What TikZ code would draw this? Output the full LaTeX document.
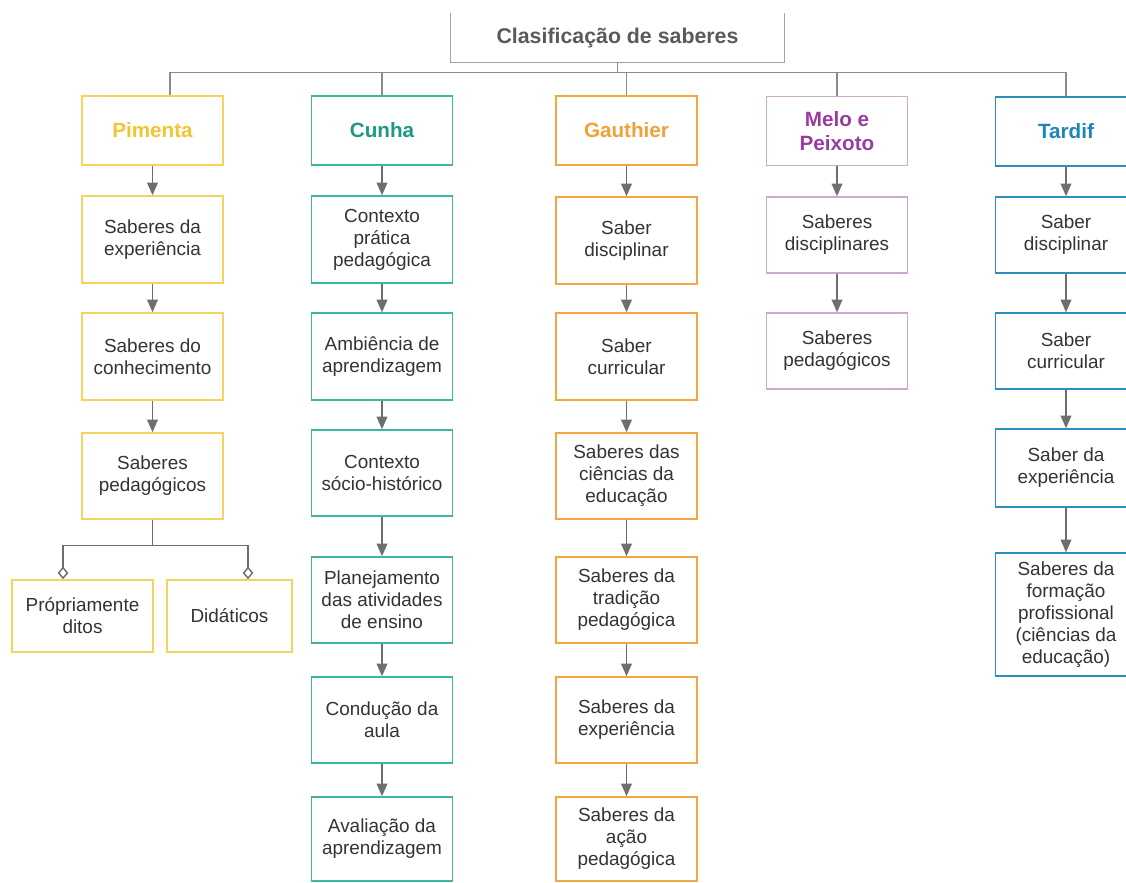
\documentclass[tikz,border=0pt]{standalone}
\usepackage{fontspec}
\setmainfont{Liberation Sans}
\usetikzlibrary{arrows.meta}

\definecolor{cinza}{HTML}{6E6E6E}
\definecolor{texto}{HTML}{333333}
\definecolor{tborda}{HTML}{A3A3A3}
\definecolor{ttexto}{HTML}{5A5A5A}
\definecolor{amarelo}{HTML}{F6D35E}
\definecolor{amarelotx}{HTML}{F3C431}
\definecolor{verde}{HTML}{3CB7A4}
\definecolor{verdetx}{HTML}{1C9884}
\definecolor{laranja}{HTML}{F4A641}
\definecolor{laranjatx}{HTML}{F0A138}
\definecolor{lilas}{HTML}{CCAACD}
\definecolor{lilastx}{HTML}{9A3C9E}
\definecolor{azul}{HTML}{2F8DBE}
\definecolor{azultx}{HTML}{1E84B9}

\tikzset{
  caixa/.style={draw, line width=1.1pt, align=center, text=texto, inner sep=2pt,
    minimum width=106pt, font=\fontsize{14.2}{16.5}\selectfont},
  cabeca/.style={caixa, minimum height=51.75pt, font=\fontsize{15.5}{18}\selectfont\bfseries},
  seta/.style={draw=cinza, line width=1.2pt, -{Triangle[length=9.5pt,width=8pt]}},
  ramo/.style={draw=cinza, line width=1.1pt, -{Diamond[open,length=9.5pt,width=8pt]}},
  barra/.style={draw=cinza!80, line width=1pt}
}

\begin{document}
\begin{tikzpicture}[x=0.75pt,y=-0.75pt]
\useasboundingbox (0,0) rectangle (1126,882);

\node (titulo) [minimum width=250pt, minimum height=37pt, text=ttexto,
  font=\fontsize{16}{19}\selectfont\bfseries] at (617.5,37.5) {Clasificação de saberes};
\draw[draw=tborda, line width=1.1pt] (titulo.north west) -- (titulo.south west)
  -- (titulo.south east) -- (titulo.north east);

% cabecalhos
\node[cabeca, draw=amarelo, text=amarelotx] (pim) at (152.5,130.5) {Pimenta};
\node[cabeca, draw=verde, text=verdetx] (cun) at (382,130.5) {Cunha};
\node[cabeca, draw=laranja, text=laranjatx] (gau) at (626.5,130.5) {Gauthier};
\node[cabeca, draw=lilas, text=lilastx] (mel) at (837,131) {Melo e\\Peixoto};
\node[cabeca, draw=azul, text=azultx] (tar) at (1066,131.5) {Tardif};

\draw[barra] (titulo.south) -- ++(0,10) -| ([xshift=13.1pt]pim.north);
\draw[barra] (titulo.south) -- ++(0,10) -| (cun.north);
\draw[barra] (titulo.south) -- ++(0,10) -| (gau.north);
\draw[barra] (titulo.south) -- ++(0,10) -| (mel.north);
\draw[barra] (titulo.south) -- ++(0,10) -| (tar.north);

% Pimenta
\node[caixa, draw=amarelo, minimum height=65.25pt] (p1) at (152.5,239.5) {Saberes da\\experiência};
\node[caixa, draw=amarelo, minimum height=65.25pt] (p2) at (152.5,356.5) {Saberes do\\conhecimento};
\node[caixa, draw=amarelo, minimum height=64.5pt] (p3) at (152.5,476) {Saberes\\pedagógicos};
\node[caixa, draw=amarelo, minimum height=54pt] (p4) at (82.5,616) {Própriamente\\ditos};
\node[caixa, draw=amarelo, minimum height=54pt, minimum width=94pt] (p5) at (229.5,616) {Didáticos};
\draw[seta] (pim) -- (p1);
\draw[seta] (p1) -- (p2);
\draw[seta] (p2) -- (p3);
\draw[ramo] (p3.south) -- ++(0,26) -| ([xshift=-14.6pt]p4.north);
\draw[ramo] (p3.south) -- ++(0,26) -| ([xshift=13.9pt]p5.north);

% Cunha
\node[caixa, draw=verde, minimum height=65.25pt] (c1) at (382,239.5) {Contexto\\prática\\pedagógica};
\node[caixa, draw=verde, minimum height=65.25pt] (c2) at (382,356.5) {Ambiência de\\aprendizagem};
\node[caixa, draw=verde, minimum height=64.5pt] (c3) at (382,473) {Contexto\\sócio-histórico};
\node[caixa, draw=verde, minimum height=64.5pt] (c4) at (382,600) {Planejamento\\das atividades\\de ensino};
\node[caixa, draw=verde, minimum height=64.5pt] (c5) at (382,720) {Condução da\\aula};
\node[caixa, draw=verde, minimum height=63pt] (c6) at (382,839) {Avaliação da\\aprendizagem};
\draw[seta] (cun) -- (c1);
\draw[seta] (c1) -- (c2);
\draw[seta] (c2) -- (c3);
\draw[seta] (c3) -- (c4);
\draw[seta] (c4) -- (c5);
\draw[seta] (c5) -- (c6);

% Gauthier
\node[caixa, draw=laranja, minimum height=65.25pt] (g1) at (626.5,240.5) {Saber\\disciplinar};
\node[caixa, draw=laranja, minimum height=65.25pt] (g2) at (626.5,356.5) {Saber\\curricular};
\node[caixa, draw=laranja, minimum height=64.5pt] (g3) at (626.5,476) {Saberes das\\ciências da\\educação};
\node[caixa, draw=laranja, minimum height=64.5pt] (g4) at (626.5,600) {Saberes da\\tradição\\pedagógica};
\node[caixa, draw=laranja, minimum height=64.5pt] (g5) at (626.5,720) {Saberes da\\experiência};
\node[caixa, draw=laranja, minimum height=63pt] (g6) at (626.5,839) {Saberes da\\ação\\pedagógica};
\draw[seta] (gau) -- (g1);
\draw[seta] (g1) -- (g2);
\draw[seta] (g2) -- (g3);
\draw[seta] (g3) -- (g4);
\draw[seta] (g4) -- (g5);
\draw[seta] (g5) -- (g6);

% Melo e Peixoto
\node[caixa, draw=lilas, minimum height=57pt] (m1) at (837,235) {Saberes\\disciplinares};
\node[caixa, draw=lilas, minimum height=57pt] (m2) at (837,351) {Saberes\\pedagógicos};
\draw[seta] (mel) -- (m1);
\draw[seta] (m1) -- (m2);

% Tardif
\node[caixa, draw=azul, minimum height=57pt] (t1) at (1066,235) {Saber\\disciplinar};
\node[caixa, draw=azul, minimum height=57pt] (t2) at (1066,351) {Saber\\curricular};
\node[caixa, draw=azul, minimum height=58.5pt] (t3) at (1066,468) {Saber da\\experiência};
\node[caixa, draw=azul, minimum height=92.25pt] (t4) at (1066,614.5) {Saberes da\\formação\\profissional\\(ciências da\\educação)};
\draw[seta] (tar) -- (t1);
\draw[seta] (t1) -- (t2);
\draw[seta] (t2) -- (t3);
\draw[seta] (t3) -- (t4);
\end{tikzpicture}
\end{document}
